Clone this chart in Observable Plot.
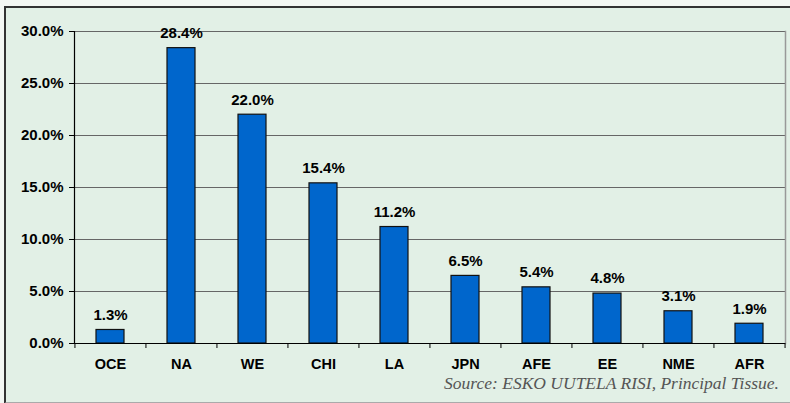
<!DOCTYPE html>
<html><head><meta charset="utf-8">
<script src="https://cdn.jsdelivr.net/npm/d3@7"></script>
<script src="https://cdn.jsdelivr.net/npm/@observablehq/plot@0.6"></script>
<style>
html,body{margin:0;padding:0;background:#f3f7f3;}
#wrap{position:relative;width:790px;height:403px;overflow:hidden;}
#box{position:absolute;left:4px;top:6px;width:790px;height:394px;background:#e2f0e6;border-top:2px solid #333;border-left:2px solid #333;border-bottom:2px solid #aaa;}
#chart{position:absolute;left:0;top:0;}
#src{position:absolute;right:11px;top:375px;line-height:1;font-family:'Liberation Serif','Times New Roman',serif;font-style:italic;font-size:17.5px;color:#555;white-space:nowrap;}
</style></head>
<body><div id="wrap"><div id="box"></div><div id="chart"></div><div id="src"></div></div>
<script>
const regions = ["OCE","NA","WE","CHI","LA","JPN","AFE","EE","NME","AFR"];
const shares = [1.3,28.4,22.0,15.4,11.2,6.5,5.4,4.8,3.1,1.9];
const yTicks = [0,5,10,15,20,25,30];
const source = "Source: ESKO UUTELA RISI, Principal Tissue.";

const data = regions.map((r,i)=>({region:r, share:shares[i]}));
const font = "'Liberation Sans', Arial, sans-serif";
const W = 790, ML = 74, MR = 5;
const halfStep = (W - ML - MR) / regions.length / 2;

const plot = Plot.plot({
  width:W, height:403,
  marginLeft:ML, marginRight:MR, marginTop:31, marginBottom:60,
  style:{background:"transparent", fontFamily:font, fontSize:"14px", fontWeight:"bold", color:"#000"},
  x:{domain:regions, paddingInner:0.6, paddingOuter:0.3, label:null},
  y:{domain:[0,30], label:null},
  marks:[
    Plot.ruleY(yTicks.slice(1), {stroke:"#666", strokeWidth:1.2}),
    Plot.frame({anchor:"right", stroke:"#999", strokeWidth:1.5}),
    Plot.barY(data, {x:"region", y:"share", fill:"#0066cc", stroke:"#111", strokeWidth:1.2}),
    Plot.text(data, {x:"region", y:"share", text:d=>d.share.toFixed(1)+"%", dy:-15, fontSize:15, fontWeight:"bold", fill:"#000"}),
    Plot.axisY({ticks:yTicks, tickFormat:d=>d.toFixed(1)+"%", tickSize:5, tickPadding:6, fontSize:15, fontWeight:"bold", stroke:"#000"}),
    Plot.frame({anchor:"left", stroke:"#000", strokeWidth:1.2}),
    Plot.axisX({tickSize:0, tickPadding:15, fontSize:14.5, fontWeight:"bold"}),
    Plot.axisX({tickSize:5, tickFormat:()=>"", dx:-halfStep, stroke:"#000"}),
    Plot.axisX({ticks:[regions[regions.length-1]], tickSize:5, tickFormat:()=>"", dx:halfStep, stroke:"#000"}),
    Plot.ruleY([0], {stroke:"#000", strokeWidth:1.2})
  ]
});
document.getElementById("chart").appendChild(plot);
document.getElementById("src").textContent = source;
</script></body></html>
